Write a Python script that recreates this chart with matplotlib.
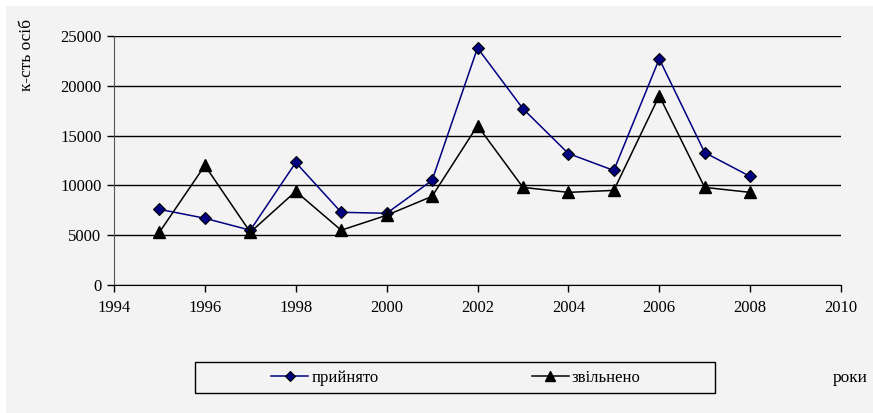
import matplotlib
matplotlib.use('agg')
import matplotlib.pyplot as plt
from matplotlib.patches import Rectangle

plt.rcParams['font.family'] = ['Liberation Serif', 'DejaVu Serif']

years = [1995, 1996, 1997, 1998, 1999, 2000, 2001, 2002, 2003, 2004, 2005, 2006, 2007, 2008]
hired = [7600, 6700, 5500, 12300, 7300, 7200, 10500, 23800, 17700, 13200, 11500, 22700, 13300, 10900]
fired = [5300, 12000, 5300, 9400, 5500, 7000, 8900, 16000, 9800, 9300, 9500, 19000, 9800, 9300]

x_ticks = [1994, 1996, 1998, 2000, 2002, 2004, 2006, 2008, 2010]
y_ticks = [0, 5000, 10000, 15000, 20000, 25000]

fig = plt.figure(figsize=(8.73, 4.13), dpi=100, facecolor='white')
# gray panel behind everything, with a thin white margin at top and left
fig.patches.append(Rectangle((6 / 873, 0), 1, 1 - 6 / 413, transform=fig.transFigure,
                             facecolor='#f3f3f3', edgecolor='none', zorder=-10))

ax = fig.add_axes([114 / 873, 1 - 285 / 413, (841 - 114) / 873, (285 - 36) / 413])
ax.set_facecolor('none')

ax.plot(years, hired, color='#000080', lw=1.1, marker='D', ms=6,
        mfc='#000080', mec='black', mew=0.8, label='прийнято', zorder=3)
ax.plot(years, fired, color='black', lw=1.1, marker='^', ms=8.5,
        mfc='black', mec='black', label='звільнено', zorder=3)

ax.set_xlim(1994, 2010)
ax.set_ylim(0, 25000)
ax.set_xticks(x_ticks)
ax.set_yticks(y_ticks)
ax.yaxis.grid(True, color='black', lw=1.0)
ax.set_axisbelow(True)
for s in ['top', 'right']:
    ax.spines[s].set_visible(False)
ax.spines['left'].set_color('#555555')
ax.spines['bottom'].set_color('black')
ax.tick_params(axis='both', direction='out', length=5, width=1, labelsize=12, pad=4)
ax.tick_params(axis='x', pad=6)

fig.text(27 / 873, 1 - 55 / 413, 'к-сть осіб', rotation=90, fontsize=12.5,
         ha='center', va='center')
fig.text(850 / 873, 1 - 378 / 413, 'роки', fontsize=12.5, ha='center', va='center')

# legend frame
fig.patches.append(Rectangle((195 / 873, 1 - 393 / 413), 520 / 873, 31 / 413,
                             transform=fig.transFigure, facecolor='none',
                             edgecolor='black', lw=1.0))
fig.legend(loc='center', bbox_to_anchor=(456 / 873, 1 - 377.5 / 413), ncol=2,
           frameon=False, fontsize=12, handlelength=2.2, handletextpad=0.2,
           columnspacing=9.2, markerscale=0.9)

fig.savefig('out.png', dpi=100, facecolor=fig.get_facecolor())
